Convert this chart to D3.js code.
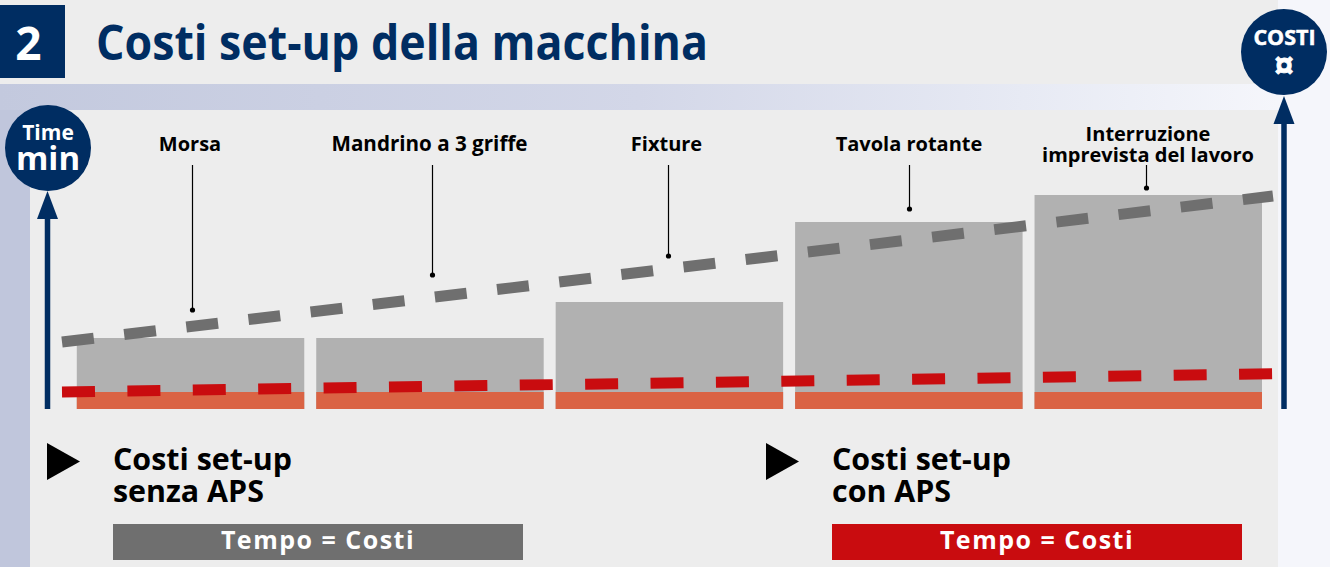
<!DOCTYPE html>
<html lang="it">
<head>
<meta charset="utf-8">
<title>Costi set-up della macchina</title>
<script src="https://cdn.jsdelivr.net/npm/d3@7"></script>
<style>
html,body{margin:0;padding:0;background:#f5f6fb;overflow:hidden}
svg{display:block}
text{font-family:"Open Sans","Noto Sans",sans-serif;font-weight:700}
</style>
</head>
<body>
<svg id="chart" width="1330" height="567"></svg>
<script>
const categories = ["Morsa", "Mandrino a 3 griffe", "Fixture", "Tavola rotante", "Interruzione imprevista del lavoro"];
const timeWithoutAps = [35.5, 35.5, 53.5, 93.5, 107];
const timeWithAps = [8.5, 8.5, 8.5, 8.5, 8.5];
const lineStartEnd = [0, 1];
const costWithoutAps = [33.5, 106.5];
const costWithAps = [8.5, 17.6];
const leaderTargets = [49.5, 67, 76.5, 100, 110.5];
const labelLines = [["Morsa"], ["Mandrino a 3 griffe"], ["Fixture"], ["Tavola rotante"], ["Interruzione", "imprevista del lavoro"]];

const svg = d3.select("#chart");
const defs = svg.append("defs");
const grad = defs.append("linearGradient").attr("id", "band");
grad.append("stop").attr("offset", "0").attr("stop-color", "#c3c9de");
grad.append("stop").attr("offset", "0.5").attr("stop-color", "#d3d7e8");
grad.append("stop").attr("offset", "0.8").attr("stop-color", "#e7eaf4");
grad.append("stop").attr("offset", "1").attr("stop-color", "#f5f6fb");

const NAVY = "#002d62";

// page backdrop
svg.append("rect").attr("width", 1330).attr("height", 567).attr("fill", "#f5f6fb");
svg.append("rect").attr("width", 1278).attr("height", 84).attr("fill", "#ededed");
svg.append("rect").attr("y", 84).attr("width", 1278).attr("height", 26).attr("fill", "url(#band)");
svg.append("rect").attr("y", 110).attr("width", 30).attr("height", 457).attr("fill", "#c0c6dc");
svg.append("rect").attr("x", 30).attr("y", 110).attr("width", 1248).attr("height", 457).attr("fill", "#ededed");

// header
svg.append("rect").attr("y", 5).attr("width", 65).attr("height", 73).attr("fill", NAVY);
svg.append("text").attr("x", 28.5).attr("y", 59.5).attr("text-anchor", "middle")
  .attr("font-size", 46).attr("fill", "#fff").text("2");
svg.append("text").attr("x", 96).attr("y", 60).attr("font-size", 47.5).attr("fill", NAVY)
  .attr("textLength", 612).attr("lengthAdjust", "spacingAndGlyphs")
  .text("Costi set-up della macchina");

// scales
const x = d3.scaleBand().domain(categories).range([76.8, 1262]).paddingInner(0.05).paddingOuter(0);
const y = d3.scaleLinear().domain([0, 100]).range([409, 209]);
const xLine = d3.scaleLinear().domain([0, 1]).range([62, 1273]);

// bars
svg.append("g").selectAll("rect").data(categories).join("rect")
  .attr("x", d => x(d)).attr("width", x.bandwidth())
  .attr("y", (d, i) => y(timeWithoutAps[i]))
  .attr("height", (d, i) => y(0) - y(timeWithoutAps[i]))
  .attr("fill", "#b1b1b1");
svg.append("g").selectAll("rect").data(categories).join("rect")
  .attr("x", d => x(d)).attr("width", x.bandwidth())
  .attr("y", (d, i) => y(timeWithAps[i]))
  .attr("height", (d, i) => y(0) - y(timeWithAps[i]))
  .attr("fill", "#da6344");

// cost lines
const line = d3.line().x((d, i) => xLine(lineStartEnd[i])).y(d => y(d));
svg.append("path").attr("d", line(costWithoutAps)).attr("fill", "none")
  .attr("stroke", "#6f6f6f").attr("stroke-width", 11).attr("stroke-dasharray", "32 30.6");
svg.append("path").attr("d", line(costWithAps)).attr("fill", "none")
  .attr("stroke", "#c90c0f").attr("stroke-width", 11).attr("stroke-dasharray", "33 32.4");

// leaders
const lx = [192.5, 432.5, 668.5, 909.5, 1146.5];
const leaderTop = [165, 165, 165, 165, 165];
const g = svg.append("g");
categories.forEach((c, i) => {
  g.append("line").attr("x1", lx[i]).attr("x2", lx[i]).attr("y1", leaderTop[i]).attr("y2", y(leaderTargets[i]))
    .attr("stroke", "#000").attr("stroke-width", 1.2);
  g.append("circle").attr("cx", lx[i]).attr("cy", y(leaderTargets[i])).attr("r", 2.6).attr("fill", "#000");
});
const labelX = [190, 429.5, 666.5, 909, 1148];
labelLines.forEach((ls, i) => {
  const base = ls.length === 1 ? 150.5 : 141;
  ls.forEach((t, j) => {
    svg.append("text").attr("x", labelX[i]).attr("y", base + j * 21).attr("text-anchor", "middle")
      .attr("font-size", t.startsWith("Mandrino") ? 20.6 : 20).attr("fill", "#000").text(t);
  });
});

// axes arrows
function arrow(cx, tip) {
  svg.append("line").attr("x1", cx).attr("x2", cx).attr("y1", tip + 20).attr("y2", 409)
    .attr("stroke", NAVY).attr("stroke-width", 5.5);
  svg.append("path").attr("d", `M${cx},${tip}L${cx + 10.5},${tip + 28}L${cx - 10.5},${tip + 28}Z`).attr("fill", NAVY);
}
arrow(47.5, 191);
arrow(1284, 96);

svg.append("circle").attr("cx", 48).attr("cy", 148).attr("r", 43).attr("fill", NAVY);
svg.append("text").attr("x", 48).attr("y", 140).attr("text-anchor", "middle").attr("font-size", 21).attr("fill", "#fff").text("Time");
svg.append("text").attr("x", 48).attr("y", 170).attr("text-anchor", "middle").attr("font-size", 33).attr("fill", "#fff").text("min");

svg.append("circle").attr("cx", 1284).attr("cy", 52).attr("r", 43).attr("fill", NAVY);
svg.append("text").attr("x", 1284.5).attr("y", 45).attr("text-anchor", "middle").attr("font-size", 21.5)
  .attr("fill", "#fff").attr("stroke", "#fff").attr("stroke-width", 0.5).text("COSTI");
svg.append("text").attr("x", 1284).attr("y", 79).attr("text-anchor", "middle").attr("font-size", 37)
  .attr("fill", "#fff").attr("stroke", "#fff").attr("stroke-width", 0.8).text("¤");

// legend blocks
const legends = [
  {tx: 47, lines: ["Costi set-up", "senza APS"], fill: "#6f6f6f"},
  {tx: 766, lines: ["Costi set-up", "con APS"], fill: "#c90c0f"}
];
legends.forEach(l => {
  const bx = l.tx + 66;
  svg.append("path").attr("d", `M${l.tx},443L${l.tx + 33},461.5L${l.tx},480Z`).attr("fill", "#000");
  l.lines.forEach((t, j) => svg.append("text").attr("x", bx).attr("y", 470 + j * 32)
    .attr("font-size", 30.4).attr("fill", "#000").text(t));
  svg.append("rect").attr("x", bx).attr("y", 524).attr("width", 410).attr("height", 36).attr("fill", l.fill);
  svg.append("text").attr("x", bx + 205).attr("y", 549).attr("text-anchor", "middle")
    .attr("font-size", 25).attr("letter-spacing", 1.5).attr("fill", "#fff").text("Tempo = Costi");
});
</script>
</body>
</html>
